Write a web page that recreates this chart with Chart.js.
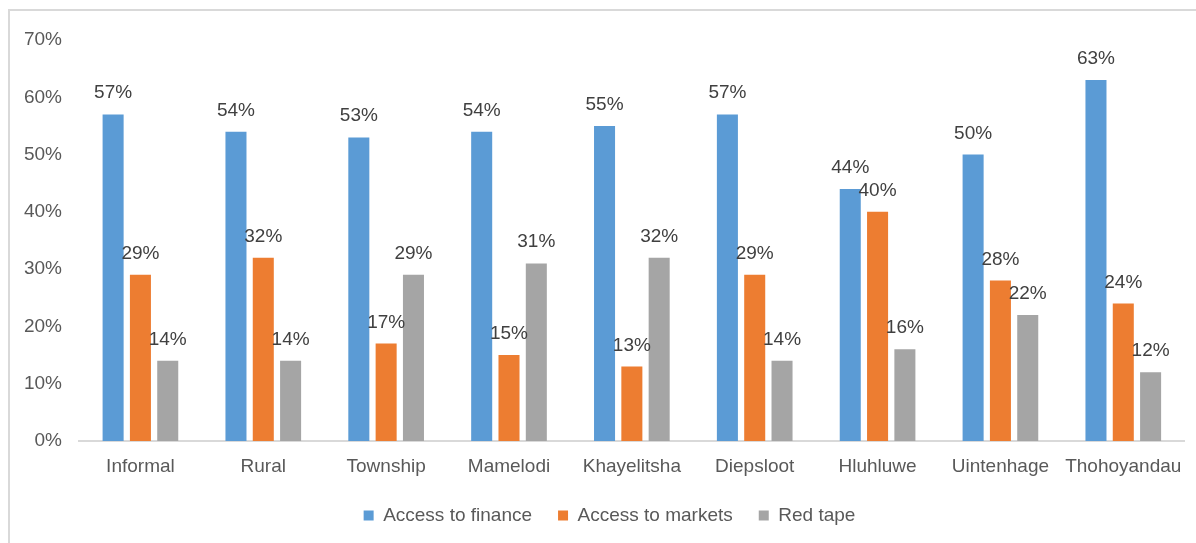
<!DOCTYPE html>
<html>
<head>
<meta charset="utf-8">
<title>Obstacles by area</title>
<script src="https://cdn.jsdelivr.net/npm/chart.js@4/dist/chart.umd.min.js"></script>
<style>
    html, body { margin: 0; padding: 0; background: #fff; overflow: hidden; }
    #frame {
        position: absolute; left: 8px; top: 9px;
        width: 1220px; height: 600px;
        border: 2px solid #D9D9D9; box-sizing: border-box;
    }
    #wrap { position: absolute; left: 0; top: 0; width: 1196px; height: 543px; }
</style>
</head>
<body>
<div id="frame"></div>
<div id="wrap"><canvas id="chart-area" width="1196" height="543"></canvas></div>
<script>
// categories and series (percent)
var areas = ['Informal', 'Rural', 'Township', 'Mamelodi', 'Khayelitsha', 'Diepsloot', 'Hluhluwe', 'Uintenhage', 'Thohoyandau'];
var finance = [57, 54, 53, 54, 55, 57, 44, 50, 63];
var markets = [29, 32, 17, 15, 13, 29, 40, 28, 24];
var redTape = [14, 14, 29, 31, 32, 14, 16, 22, 12];
var yTicks = [0, 10, 20, 30, 40, 50, 60, 70];

var oColors = { blue: '#5B9BD5', orange: '#ED7D31', grey: '#A5A5A5' };
var fontFamily = '"Liberation Sans", Arial, sans-serif';

// value labels above every bar
var barLabels = {
    id: 'barLabels',
    afterDatasetsDraw: function (chart) {
        var ctx = chart.ctx;
        ctx.save();
        ctx.font = '19px ' + fontFamily;
        ctx.fillStyle = '#404040';
        ctx.textAlign = 'center';
        ctx.textBaseline = 'alphabetic';
        chart.data.datasets.forEach(function (ds, i) {
            chart.getDatasetMeta(i).data.forEach(function (bar, j) {
                ctx.fillText(ds.data[j] + '%', bar.x, bar.y - 16);
            });
        });
        ctx.restore();
    }
};

// keep the legend centred a bit right of the canvas middle
var legendShift = {
    id: 'legendShift',
    afterLayout: function (chart) {
        if (chart.legend) { chart.legend.left += 34; }
    }
};

var config = {
    type: 'bar',
    data: {
        labels: areas,
        datasets: [
            { label: 'Access to finance', data: finance, backgroundColor: oColors.blue },
            { label: 'Access to markets', data: markets, backgroundColor: oColors.orange },
            { label: 'Red tape', data: redTape, backgroundColor: oColors.grey }
        ]
    },
    options: {
        responsive: false,
        animation: false,
        devicePixelRatio: 1,
        layout: { padding: { left: 0, right: 11, top: 40, bottom: 8 } },
        datasets: { bar: { categoryPercentage: 0.667, barPercentage: 0.77 } },
        scales: {
            x: {
                grid: { display: false, drawTicks: false },
                border: { color: '#D9D9D9', width: 2 },
                ticks: { color: '#595959', font: { family: fontFamily, size: 19 }, padding: 14 },
                afterFit: function (scale) { scale.height = 39; }
            },
            y: {
                min: 0, max: 70,
                afterBuildTicks: function (scale) {
                    scale.ticks = yTicks.map(function (v) { return { value: v }; });
                },
                grid: { display: false, drawTicks: false },
                border: { display: false },
                ticks: {
                    color: '#595959', padding: 17,
                    font: { family: fontFamily, size: 19 },
                    callback: function (v) { return v + '%'; }
                },
                afterFit: function (scale) { scale.width = 79; }
            }
        },
        plugins: {
            legend: {
                position: 'bottom',
                labels: {
                    boxWidth: 10, boxHeight: 10, padding: 26,
                    color: '#595959',
                    font: { family: fontFamily, size: 19 }
                }
            },
            tooltip: { enabled: false }
        }
    },
    plugins: [barLabels, legendShift]
};

var ctx = document.getElementById('chart-area').getContext('2d');
window.myBar = new Chart(ctx, config);
</script>
</body>
</html>
